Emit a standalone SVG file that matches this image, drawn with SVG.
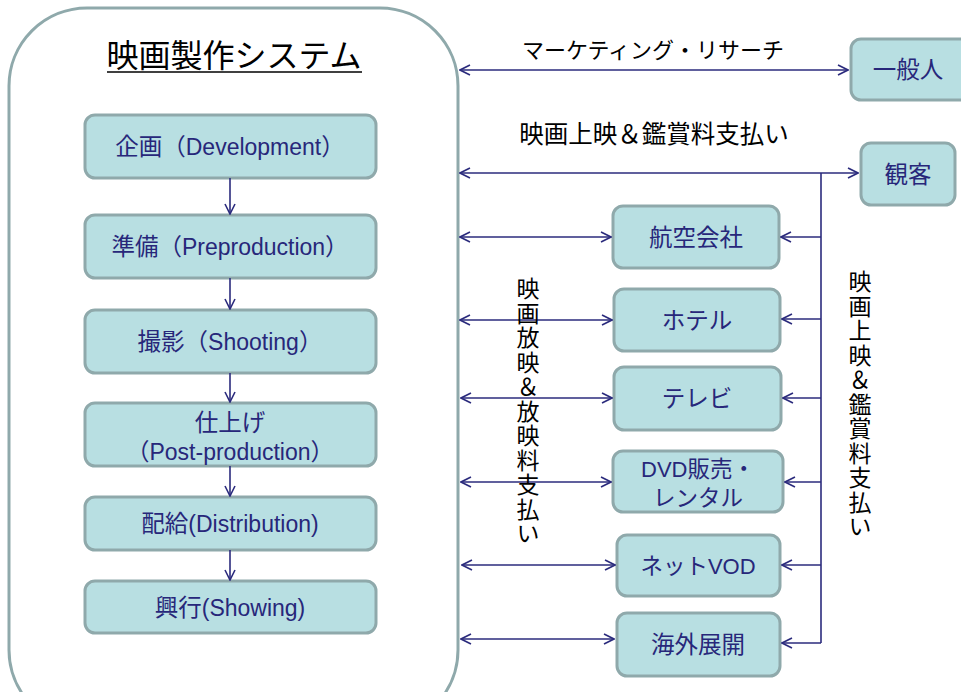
<svg xmlns="http://www.w3.org/2000/svg" width="961" height="692" viewBox="0 0 961 692">
<defs>
<style>
.box{fill:#b8dfe2;stroke:#8fa9ab;stroke-width:3}
.t{font-family:"Liberation Sans","Noto Sans CJK JP",sans-serif;font-size:23px;fill:#27277a;text-anchor:middle}
.j{font-family:"Noto Sans CJK JP",sans-serif;font-size:23.5px}
.k{font-family:"Noto Sans CJK JP","Liberation Sans",sans-serif;font-size:23px;fill:#000;text-anchor:middle}
.v{font-family:"Noto Sans CJK JP",sans-serif;font-size:23px;fill:#000;writing-mode:vertical-rl;text-orientation:upright;letter-spacing:1.5px}
.c{fill:none;stroke:#2b2b7d;stroke-width:1.6}
</style>
<marker id="ah" viewBox="0 0 12 12" refX="11" refY="6" markerWidth="12" markerHeight="12" markerUnits="userSpaceOnUse" orient="auto-start-reverse">
<path d="M1,1 L11,6 L1,11" fill="none" stroke="#2b2b7d" stroke-width="1.6"/>
</marker>
</defs>
<rect width="961" height="692" fill="#fff"/>
<g id="system">
<rect x="9" y="8" width="449" height="720" rx="78" ry="78" fill="#fff" stroke="#8fa9ab" stroke-width="3"/>
<text x="234" y="67" style="font-family:'Noto Sans CJK JP',sans-serif;font-size:32px;fill:#000;text-anchor:middle">映画製作システム</text>
<line x1="107" y1="72" x2="362" y2="72" stroke="#000" stroke-width="1.5"/>
</g>
<g id="n1"><rect class="box" x="85" y="115" width="291" height="63" rx="10"/><text class="t" x="230" y="155"><tspan class="j">企画（</tspan>Development<tspan class="j">）</tspan></text></g>
<g id="n2"><rect class="box" x="85" y="215" width="291" height="63" rx="10"/><text class="t" x="230" y="255"><tspan class="j">準備（</tspan>Preproduction<tspan class="j">）</tspan></text></g>
<g id="n3"><rect class="box" x="85" y="310" width="291" height="63" rx="10"/><text class="t" x="230" y="350"><tspan class="j">撮影（</tspan>Shooting<tspan class="j">）</tspan></text></g>
<g id="n4"><rect class="box" x="85" y="403" width="291" height="63" rx="10"/><text class="t" x="230" y="431"><tspan class="j">仕上げ</tspan></text><text class="t" x="230" y="460"><tspan class="j">（</tspan>Post-production<tspan class="j">）</tspan></text></g>
<g id="n5"><rect class="box" x="85" y="497" width="291" height="53" rx="10"/><text class="t" x="230" y="532"><tspan class="j">配給</tspan>(Distribution)</text></g>
<g id="n6"><rect class="box" x="85" y="581" width="291" height="52" rx="10"/><text class="t" x="230" y="616"><tspan class="j">興行</tspan>(Showing)</text></g>
<g id="general"><rect class="box" x="851" y="39" width="120" height="61" rx="10"/><text class="t" x="908" y="78"><tspan class="j">一般人</tspan></text></g>
<g id="audience"><rect class="box" x="861" y="143" width="94" height="62" rx="10"/><text class="t" x="908" y="183"><tspan class="j">観客</tspan></text></g>
<g id="airline"><rect class="box" x="613" y="206" width="166" height="62" rx="10"/><text class="t" x="696" y="246"><tspan class="j">航空会社</tspan></text></g>
<g id="hotel"><rect class="box" x="614" y="289" width="166" height="62" rx="10"/><text class="t" x="697" y="329"><tspan class="j">ホテル</tspan></text></g>
<g id="tv"><rect class="box" x="614" y="367" width="167" height="63" rx="10"/><text class="t" x="697" y="407"><tspan class="j">テレビ</tspan></text></g>
<g id="dvd"><rect class="box" x="613" y="451" width="170" height="61" rx="10"/><text class="t" x="698" y="477" style="font-size:22px">DVD<tspan class="j" style="font-size:22.5px">販売・</tspan></text><text class="t" x="698" y="506"><tspan class="j" style="font-size:22.5px">レンタル</tspan></text></g>
<g id="vod"><rect class="box" x="617" y="535" width="163" height="61" rx="10"/><text class="t" x="698" y="574" style="font-size:22px"><tspan class="j" style="font-size:22.5px">ネット</tspan>VOD</text></g>
<g id="overseas"><rect class="box" x="617" y="613" width="163" height="63" rx="10"/><text class="t" x="698" y="653"><tspan class="j">海外展開</tspan></text></g>
<g id="connectors">
<line class="c" x1="230" y1="178" x2="230" y2="214" marker-end="url(#ah)"/>
<line class="c" x1="230" y1="278" x2="230" y2="309" marker-end="url(#ah)"/>
<line class="c" x1="230" y1="373" x2="230" y2="402" marker-end="url(#ah)"/>
<line class="c" x1="230" y1="466" x2="230" y2="496" marker-end="url(#ah)"/>
<line class="c" x1="230" y1="550" x2="230" y2="580" marker-end="url(#ah)"/>
<line class="c" x1="460" y1="70" x2="848" y2="70" marker-start="url(#ah)" marker-end="url(#ah)"/>
<line class="c" x1="460" y1="173" x2="858" y2="173" marker-start="url(#ah)" marker-end="url(#ah)"/>
<line class="c" x1="460" y1="237" x2="611" y2="237" marker-start="url(#ah)" marker-end="url(#ah)"/>
<line class="c" x1="460" y1="320" x2="612" y2="320" marker-start="url(#ah)" marker-end="url(#ah)"/>
<line class="c" x1="461" y1="398" x2="612" y2="398" marker-start="url(#ah)" marker-end="url(#ah)"/>
<line class="c" x1="461" y1="482" x2="611" y2="482" marker-start="url(#ah)" marker-end="url(#ah)"/>
<line class="c" x1="462" y1="565" x2="615" y2="565" marker-start="url(#ah)" marker-end="url(#ah)"/>
<line class="c" x1="461" y1="639" x2="614" y2="639" marker-start="url(#ah)" marker-end="url(#ah)"/>
<line class="c" x1="821" y1="173" x2="821" y2="643" stroke-width="2"/>
<line class="c" x1="821" y1="237" x2="781" y2="237" marker-end="url(#ah)"/>
<line class="c" x1="821" y1="319" x2="782" y2="319" marker-end="url(#ah)"/>
<line class="c" x1="821" y1="398" x2="783" y2="398" marker-end="url(#ah)"/>
<line class="c" x1="821" y1="482" x2="785" y2="482" marker-end="url(#ah)"/>
<line class="c" x1="821" y1="565" x2="782" y2="565" marker-end="url(#ah)"/>
<line class="c" x1="821" y1="643" x2="782" y2="643" marker-end="url(#ah)"/>
</g>
<g id="labels">
<text class="k" x="653" y="58" style="font-size:22px">マーケティング・リサーチ</text>
<text class="k" x="654" y="143" style="font-size:24.5px">映画上映＆鑑賞料支払い</text>
<text class="v" x="528" y="277">映画放映＆放映料支払い</text>
<text class="v" x="860" y="270">映画上映＆鑑賞料支払い</text>
</g>
</svg>
